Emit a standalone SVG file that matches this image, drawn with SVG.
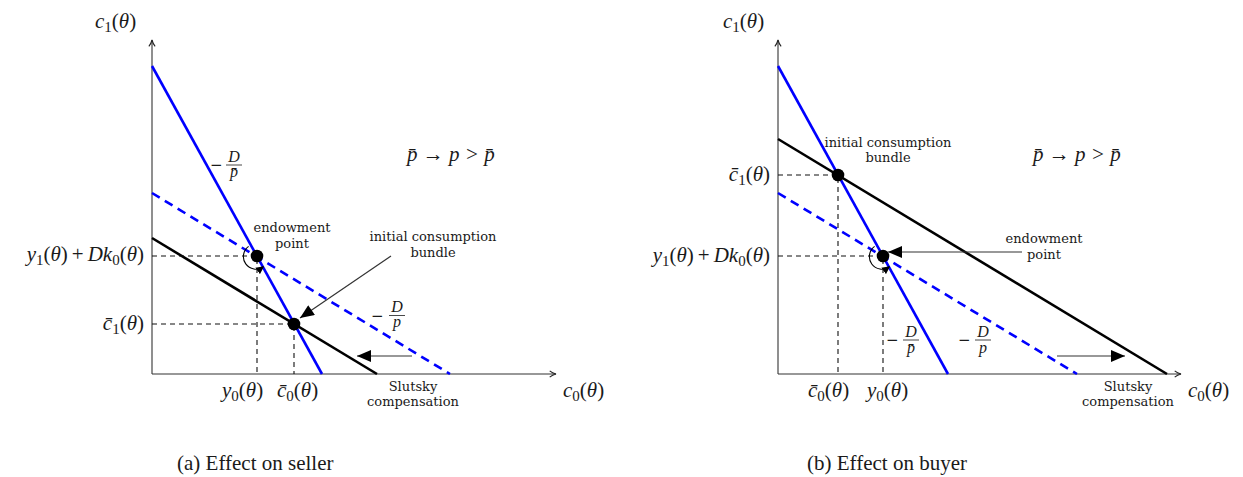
<svg xmlns="http://www.w3.org/2000/svg" width="1243" height="477" viewBox="0 0 1243 477">
<style>
text{font-family:"Liberation Serif",serif;fill:#1a1a1a}
.m{font-size:21px}
.i{font-style:italic}
.sub{font-size:15px}
.lab{font-family:"DejaVu Serif","Liberation Serif",serif;font-size:13px;text-anchor:middle}
.fr{font-size:16px}
.mn{font-family:"DejaVu Serif",serif;font-size:15px}
.cap{font-size:21px}
.axis{stroke:#333;stroke-width:1.1;fill:none}
.blue{stroke:#0000ff;stroke-width:2.6;fill:none}
.bluedash{stroke:#0000ff;stroke-width:2.6;fill:none;stroke-dasharray:9 6}
.black{stroke:#000;stroke-width:2.6;fill:none}
.guide{stroke:#111;stroke-width:1.1;stroke-dasharray:5 4;fill:none}
.conn{stroke:#333;stroke-width:1.2;fill:none}
.dot{fill:#000}
.bar{stroke:#1a1a1a;stroke-width:0.8}
</style>
<defs>
<marker id="ax" viewBox="0 0 10 10" refX="9" refY="5" markerWidth="9" markerHeight="9" markerUnits="userSpaceOnUse" orient="auto">
<path d="M2,1.5 Q5,4 9,5 Q5,6 2,8.5" fill="none" stroke="#222" stroke-width="1.2"/>
</marker>
<marker id="big" viewBox="0 0 14 12" refX="14" refY="6" markerWidth="15" markerHeight="12" markerUnits="userSpaceOnUse" orient="auto">
<path d="M0,0 L14,6 L0,12 z" fill="#000"/>
</marker>
<marker id="small" viewBox="0 0 8 8" refX="7" refY="4" markerWidth="8" markerHeight="8" markerUnits="userSpaceOnUse" orient="auto">
<path d="M0,0 L8,4 L0,8 z" fill="#000"/>
</marker>
</defs>

<!-- ===== Panel (a) ===== -->
<g id="axes-a">
<line class="axis" x1="152" y1="374" x2="152" y2="40" marker-end="url(#ax)"/>
<line class="axis" x1="152" y1="374" x2="556" y2="374" marker-end="url(#ax)"/>
</g>
<g id="lines-a">
<line class="blue" x1="152" y1="66" x2="322" y2="374"/>
<line class="bluedash" x1="152" y1="193" x2="450" y2="374"/>
<line class="black" x1="152" y1="238" x2="377" y2="374"/>
<path class="guide" d="M152,256 H257 V374 M152,324 H294 V374"/>
</g>
<g id="endowment-a">
<circle class="dot" cx="257" cy="256" r="6.3"/>
<text class="lab" x="292" y="232">endowment</text>
<text class="lab" x="292" y="248">point</text>
</g>
<g id="bundle-a">
<circle class="dot" cx="294" cy="324" r="6.3"/>
<text class="lab" x="433" y="241">initial consumption</text>
<text class="lab" x="433" y="257">bundle</text>
</g>
<g id="slutsky-a">
<text class="lab" x="413" y="391">Slutsky</text>
<text class="lab" x="413" y="406">compensation</text>
</g>
<g id="labels-a">
<text class="m" x="95" y="27.5"><tspan class="i">c</tspan><tspan class="sub" dy="4">1</tspan><tspan dy="-4">(</tspan><tspan class="i">θ</tspan>)</text>
<text class="m" x="563" y="397"><tspan class="i">c</tspan><tspan class="sub" dy="4">0</tspan><tspan dy="-4">(</tspan><tspan class="i">θ</tspan>)</text>
<text class="m" x="144" y="261" text-anchor="end"><tspan class="i">y</tspan><tspan class="sub" dy="4">1</tspan><tspan dy="-4">(</tspan><tspan class="i">θ</tspan>)<tspan dx="4">+</tspan><tspan class="i" dx="4">Dk</tspan><tspan class="sub" dy="4">0</tspan><tspan dy="-4">(</tspan><tspan class="i">θ</tspan>)</text>
<text class="m" x="144" y="330" text-anchor="end"><tspan class="i">c̄</tspan><tspan class="sub" dy="4">1</tspan><tspan dy="-4">(</tspan><tspan class="i">θ</tspan>)</text>
<text class="m" x="222" y="397"><tspan class="i">y</tspan><tspan class="sub" dy="4">0</tspan><tspan dy="-4">(</tspan><tspan class="i">θ</tspan>)</text>
<text class="m" x="277" y="397"><tspan class="i">c̄</tspan><tspan class="sub" dy="4">0</tspan><tspan dy="-4">(</tspan><tspan class="i">θ</tspan>)</text>
<text class="m i" x="407" y="161">p̄ → p &gt; p̄</text>
<!-- -D/pbar on solid blue -->
<text class="mn" x="210" y="170">−</text>
<text class="fr i" x="234" y="162" text-anchor="middle">D</text>
<line class="bar" x1="226" y1="165" x2="242" y2="165"/>
<text class="fr i" x="234" y="177" text-anchor="middle">p̄</text>
<!-- -D/p on dashed blue -->
<text class="mn" x="371" y="320.5">−</text>
<text class="fr i" x="397" y="312" text-anchor="middle">D</text>
<line class="bar" x1="389" y1="315.5" x2="405" y2="315.5"/>
<text class="fr i" x="397" y="327" text-anchor="middle">p</text>
<text class="cap" x="177" y="470">(a) Effect on seller</text>
</g>
<g id="connectors-a">
<line class="conn" x1="391" y1="256" x2="300" y2="318" marker-end="url(#big)"/>
<line class="conn" x1="412" y1="356" x2="357" y2="356" marker-end="url(#big)"/>
<path d="M248.6,246.4 A12.5,12.5 0 0 0 263.3,266.8" fill="none" stroke="#000" stroke-width="1.1" marker-end="url(#small)"/>
</g>

<!-- ===== Panel (b) ===== -->
<g id="axes-b">
<line class="axis" x1="778" y1="374" x2="778" y2="40" marker-end="url(#ax)"/>
<line class="axis" x1="778" y1="374" x2="1181" y2="374" marker-end="url(#ax)"/>
</g>
<g id="lines-b">
<line class="blue" x1="778" y1="66" x2="948" y2="374"/>
<line class="bluedash" x1="778" y1="193" x2="1077" y2="374"/>
<line class="black" x1="778" y1="139" x2="1167" y2="374"/>
<path class="guide" d="M778,175 H838 V374 M778,256 H883 V374"/>
</g>
<g id="bundle-b">
<circle class="dot" cx="838" cy="175" r="6.3"/>
<text class="lab" x="888" y="147">initial consumption</text>
<text class="lab" x="888" y="162">bundle</text>
</g>
<g id="endowment-b">
<circle class="dot" cx="883" cy="256" r="6.3"/>
<text class="lab" x="1044" y="243">endowment</text>
<text class="lab" x="1044" y="259">point</text>
</g>
<g id="slutsky-b">
<text class="lab" x="1128" y="391">Slutsky</text>
<text class="lab" x="1128" y="406">compensation</text>
</g>
<g id="labels-b">
<text class="m" x="723" y="27.5"><tspan class="i">c</tspan><tspan class="sub" dy="4">1</tspan><tspan dy="-4">(</tspan><tspan class="i">θ</tspan>)</text>
<text class="m" x="1188" y="397"><tspan class="i">c</tspan><tspan class="sub" dy="4">0</tspan><tspan dy="-4">(</tspan><tspan class="i">θ</tspan>)</text>
<text class="m" x="770" y="262" text-anchor="end"><tspan class="i">y</tspan><tspan class="sub" dy="4">1</tspan><tspan dy="-4">(</tspan><tspan class="i">θ</tspan>)<tspan dx="4">+</tspan><tspan class="i" dx="4">Dk</tspan><tspan class="sub" dy="4">0</tspan><tspan dy="-4">(</tspan><tspan class="i">θ</tspan>)</text>
<text class="m" x="770" y="180.5" text-anchor="end"><tspan class="i">c̄</tspan><tspan class="sub" dy="4">1</tspan><tspan dy="-4">(</tspan><tspan class="i">θ</tspan>)</text>
<text class="m" x="808" y="397"><tspan class="i">c̄</tspan><tspan class="sub" dy="4">0</tspan><tspan dy="-4">(</tspan><tspan class="i">θ</tspan>)</text>
<text class="m" x="867" y="397"><tspan class="i">y</tspan><tspan class="sub" dy="4">0</tspan><tspan dy="-4">(</tspan><tspan class="i">θ</tspan>)</text>
<text class="m i" x="1033" y="161">p̄ → p &gt; p̄</text>
<!-- -D/pbar -->
<text class="mn" x="886" y="345">−</text>
<text class="fr i" x="911" y="337" text-anchor="middle">D</text>
<line class="bar" x1="903" y1="340" x2="919" y2="340"/>
<text class="fr i" x="911" y="353" text-anchor="middle">p̄</text>
<!-- -D/p -->
<text class="mn" x="958" y="345">−</text>
<text class="fr i" x="983" y="337" text-anchor="middle">D</text>
<line class="bar" x1="975" y1="340" x2="991" y2="340"/>
<text class="fr i" x="983" y="353" text-anchor="middle">p</text>
<text class="cap" x="807" y="470">(b) Effect on buyer</text>
</g>
<g id="connectors-b">
<line class="conn" x1="1022" y1="252" x2="888" y2="252" marker-end="url(#big)"/>
<line class="conn" x1="1057" y1="356" x2="1125" y2="356" marker-end="url(#big)"/>
<path d="M874.6,246.4 A12.5,12.5 0 0 0 889.3,266.8" fill="none" stroke="#000" stroke-width="1.1" marker-end="url(#small)"/>
</g>
</svg>
